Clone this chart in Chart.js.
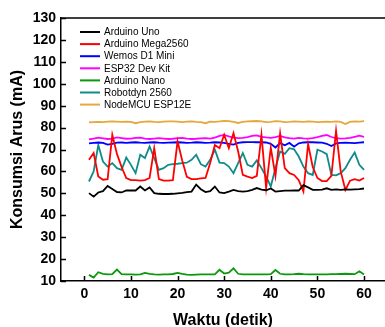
<!DOCTYPE html>
<html>
<head>
<meta charset="utf-8">
<script src="https://cdn.jsdelivr.net/npm/chart.js@4.4.1/dist/chart.umd.min.js"></script>
<style>
  html, body { margin: 0; padding: 0; background: #fff; }
  #chart { display: block; }
</style>
</head>
<body>
<canvas id="chart" width="385" height="327"></canvas>
<script>
// ---- Data ----

const seconds = [1,2,3,4,5,6,7,8,9,10,11,12,13,14,15,16,17,18,19,20,
  21,22,23,24,25,26,27,28,29,30,31,32,33,34,35,36,37,38,39,40,
  41,42,43,44,45,46,47,48,49,50,51,52,53,54,55,56,57,58,59,60]

const xTicks = [0, 10, 20, 30, 40, 50, 60]
const yTicks = [10, 20, 30, 40, 50, 60, 70, 80, 90, 100, 110, 120, 130]

const boardNames = ['Arduino Uno', 'Arduino Mega2560', 'Wemos D1 Mini', 'ESP32 Dev Kit',
  'Arduino Nano', 'Robotdyn 2560', 'NodeMCU ESP12E']
const boardColors = ['#000000', '#ff0000', '#0000ff', '#ff00ff', '#0a990a', '#108a8a', '#e6a83a']

const uno = [50.1,48.5,50.4,51.0,53.4,52.0,50.6,50.4,51.3,51.3,
  51.3,53.1,51.3,52.7,50.1,49.8,49.7,49.7,49.8,50.0,
  50.2,50.6,50.8,54.0,51.9,50.6,51.0,53.1,50.4,50.1,
  50.8,51.6,51.0,50.8,51.0,51.6,52.4,51.7,51.4,52.2,
  50.8,51.0,51.2,51.2,51.3,51.3,53.7,52.7,51.6,51.6,
  51.7,52.3,51.6,51.8,51.6,51.8,51.7,51.8,51.9,52.2]

const mega = [65.3,68.4,57.7,56.2,56.5,76.7,68.0,62.0,57.0,56.0,
  56.0,55.8,56.0,57.0,70.6,56.5,55.8,55.8,56.0,73.7,
  65.0,57.5,56.5,56.5,56.8,57.0,63.8,72.1,70.6,76.7,
  70.6,77.5,69.1,58.4,57.6,57.0,58.0,76.7,52.5,70.8,
  58.0,77.3,61.5,59.2,58.4,56.0,50.8,72.5,62.0,57.0,
  55.6,55.6,58.0,78.5,60.0,51.6,55.8,56.5,55.8,57.0]

const wemos = [72.8,73.0,73.2,73.0,72.2,72.6,73.1,73.2,73.0,73.2,
  73.3,73.1,73.0,73.2,73.3,73.1,73.0,73.1,73.2,73.3,
  73.2,73.0,73.1,73.3,73.2,73.0,73.1,73.3,73.2,73.0,
  72.6,72.2,73.0,73.3,73.4,73.4,73.3,73.3,73.2,72.6,
  70.9,72.9,71.9,73.0,71.3,72.8,73.2,73.3,73.3,73.2,
  73.1,72.6,71.6,72.8,73.0,73.1,73.0,72.9,73.1,73.3]

const esp32 = [74.6,75.0,75.4,75.1,74.8,75.0,75.5,75.2,74.9,75.0,
  75.3,75.4,75.0,74.8,75.0,75.2,75.0,74.8,74.9,75.2,
  75.3,75.0,74.8,74.9,75.1,75.2,75.0,75.4,76.2,76.7,
  76.0,75.4,75.2,75.3,75.6,76.2,76.4,75.8,75.5,75.3,
  75.6,76.2,75.5,75.2,75.0,75.3,75.1,75.0,75.2,75.6,
  76.2,76.6,75.7,75.2,75.0,75.1,75.3,75.8,76.3,75.8]

const nano = [12.8,11.6,14.0,13.3,13.0,13.1,15.2,13.1,13.0,13.0,
  12.9,13.0,13.7,13.3,13.0,12.9,13.0,13.0,13.2,13.7,
  13.2,12.9,12.8,12.9,13.0,13.0,13.0,13.0,15.1,13.4,
  13.8,15.8,13.3,13.0,13.0,13.0,13.0,13.0,13.0,13.1,
  15.0,13.3,13.0,13.0,13.1,13.3,13.1,13.0,13.0,13.0,
  13.0,13.0,13.1,13.1,13.2,13.3,13.2,13.1,14.4,13.0]

const robotdyn = [55.4,60.0,72.0,64.5,62.2,63.8,61.5,60.7,66.3,63.0,
  59.2,67.6,66.1,71.4,66.0,60.7,61.5,63.0,63.3,63.5,
  63.8,64.0,65.3,67.6,63.3,62.2,65.3,69.9,64.0,63.8,
  62.2,59.2,63.8,68.4,63.0,62.2,65.0,61.5,57.7,53.1,
  61.5,69.1,68.0,70.6,70.1,66.8,62.2,59.2,58.4,69.9,
  69.1,67.9,58.4,58.2,59.2,61.5,65.3,68.6,63.0,60.7]

const nodemcu = [82.4,82.5,82.6,82.5,82.7,82.8,82.7,82.6,82.7,82.6,
  82.0,82.5,82.7,82.8,82.6,82.5,82.7,82.8,82.8,82.7,
  82.5,82.7,82.8,82.6,82.5,82.0,82.7,82.6,82.8,83.1,
  82.9,82.6,82.1,82.6,82.8,82.9,83.0,82.8,82.5,82.6,
  82.9,82.8,82.5,82.6,82.8,82.7,82.6,82.8,82.7,82.5,
  82.6,82.7,82.6,82.8,82.6,81.6,82.6,82.8,82.7,82.9]

const series = [uno, mega, wemos, esp32, nano, robotdyn, nodemcu]

// ---- Plugins: inward ticks, top frame line, legend inside plot ----

const frameAndTicks = {
  id: 'frameAndTicks',
  afterDraw(chart) {
    const { ctx, chartArea: a, scales } = chart
    ctx.save()
    ctx.strokeStyle = '#000'
    ctx.lineWidth = 1.5
    ctx.beginPath()
    ctx.moveTo(a.left, a.top)
    ctx.lineTo(a.right, a.top)
    for (const v of yTicks) {
      const y = Math.round(scales.y.getPixelForValue(v)) + 0.5
      ctx.moveTo(a.left, y)
      ctx.lineTo(a.left + 5, y)
    }
    for (const v of xTicks) {
      const x = Math.round(scales.x.getPixelForValue(v)) + 0.5
      ctx.moveTo(x, a.bottom)
      ctx.lineTo(x, a.bottom - 5)
    }
    ctx.stroke()
    ctx.restore()
  }
}

const insideLegend = {
  id: 'insideLegend',
  afterDraw(chart) {
    const { ctx, chartArea: a } = chart
    ctx.save()
    ctx.font = '10px "Liberation Sans", Arial, sans-serif'
    ctx.textBaseline = 'middle'
    ctx.textAlign = 'left'
    chart.data.datasets.forEach((ds, i) => {
      const y = a.top + 14 + i * 12.1
      ctx.strokeStyle = ds.borderColor
      ctx.lineWidth = 2
      ctx.beginPath()
      ctx.moveTo(a.left + 19, y)
      ctx.lineTo(a.left + 39, y)
      ctx.stroke()
      ctx.fillStyle = '#000'
      ctx.fillText(ds.label, a.left + 43, y + 0.5)
    })
    ctx.restore()
  }
}

// ---- Chart ----

Chart.defaults.font.family = '"Liberation Sans", Arial, sans-serif'
Chart.defaults.color = '#000'

const tickFont = { size: 14, weight: 'bold' }
const titleFont = { size: 16, weight: 'bold' }

new Chart(document.getElementById('chart'), {
  type: 'line',
  data: {
    labels: seconds,
    datasets: series.map((vals, i) => ({
      label: boardNames[i],
      data: vals.map((v, j) => ({ x: seconds[j], y: v })),
      borderColor: boardColors[i],
      backgroundColor: boardColors[i],
      borderWidth: 1.8,
      pointRadius: 0,
      tension: 0
    }))
  },
  options: {
    responsive: false,
    animation: false,
    events: [],
    layout: { padding: { top: 18, right: 0, left: 0, bottom: 0 } },
    plugins: { legend: { display: false }, tooltip: { enabled: false } },
    scales: {
      x: {
        type: 'linear',
        min: -5,
        max: 64.5,
        afterBuildTicks: s => { s.ticks = xTicks.map(v => ({ value: v })) },
        afterFit: s => { s.height = 46 },
        grid: { display: false, drawTicks: false },
        border: { display: true, color: '#000', width: 1.5 },
        ticks: { font: tickFont, padding: 5, maxRotation: 0, autoSkip: false },
        title: { display: true, text: 'Waktu (detik)', font: titleFont, padding: { top: 0, bottom: -3 } }
      },
      y: {
        min: 10,
        max: 130,
        afterBuildTicks: s => { s.ticks = yTicks.map(v => ({ value: v })) },
        afterFit: s => { s.width = 61 },
        grid: { display: false, drawTicks: false },
        border: { display: true, color: '#000', width: 1.5 },
        ticks: { font: tickFont, padding: 5, autoSkip: false },
        title: { display: true, text: 'Konsumsi Arus (mA)', font: titleFont, padding: { top: 8, bottom: 0 } }
      }
    }
  },
  plugins: [frameAndTicks, insideLegend]
})
</script>
</body>
</html>
